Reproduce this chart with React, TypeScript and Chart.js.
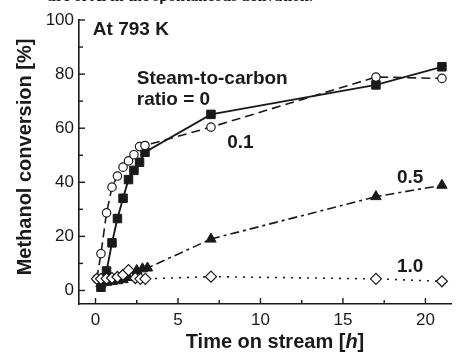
import React, { useEffect, useRef } from 'react';
import { Chart, registerables } from 'chart.js';

Chart.register(...registerables);

const INK = '#1a1a1a';
const FONT = "'Liberation Sans', Arial, Helvetica, sans-serif";

// Steam-to-carbon ratio = 0 (filled squares, solid line)
const xRatio0 = [0.33, 0.67, 1.0, 1.33, 1.67, 2.0, 2.33, 2.67, 3.0, 7, 17, 21];
const yRatio0 = [1.2, 7.2, 17.6, 26.6, 34.1, 41.0, 44.4, 47.4, 51.1, 65.1, 76.0, 82.7];

// ratio = 0.1 (open circles, dashed line)
const xRatio01 = [0.08, 0.33, 0.67, 1.0, 1.33, 1.67, 2.0, 2.33, 2.67, 3.0, 7, 17, 21];
const yRatio01 = [4.3, 13.6, 28.7, 38.2, 42.3, 45.6, 47.9, 50.2, 53.2, 53.6, 60.4, 78.9, 78.4];

// ratio = 0.5 (filled triangles, dash-dot line)
const xRatio05 = [0.33, 0.67, 1.0, 1.33, 1.67, 2.0, 2.5, 2.85, 3.15, 7, 17, 21];
const yRatio05 = [2.5, 3.0, 3.3, 3.6, 4.0, 4.8, 7.4, 8.0, 8.3, 19.0, 34.7, 38.9];

// ratio = 1.0 (open diamonds, dotted line)
const xRatio10 = [0.08, 0.33, 0.67, 1.0, 1.33, 1.67, 2.0, 2.42, 2.72, 3.02, 7, 17, 21];
const yRatio10 = [4.3, 4.3, 4.4, 4.6, 5.0, 5.8, 7.5, 4.6, 4.3, 4.3, 5.1, 4.3, 3.4];

// Axis ticks
const xTickLabels = [0, 5, 10, 15, 20];
const yTickLabels = [0, 20, 40, 60, 80, 100];

const toPoints = (xs: number[], ys: number[]) => xs.map((x, i) => ({ x, y: ys[i] }));

const isMultiple = (v: number, s: number) => Math.abs(v / s - Math.round(v / s)) < 1e-6;

const innerTicks = {
  id: 'innerTicks',
  afterDraw(chart: any) {
    const { ctx, chartArea, scales } = chart;
    ctx.save();
    ctx.strokeStyle = INK;
    ctx.lineWidth = 1.4;
    const xs = scales.x;
    xs.ticks.forEach((t: any) => {
      const v = t.value;
      if (v < 0 || v > 21 || !isMultiple(v, 2.5)) return;
      const major = isMultiple(v, 5);
      const px = xs.getPixelForValue(v);
      ctx.beginPath();
      ctx.moveTo(px, chartArea.bottom);
      ctx.lineTo(px, chartArea.bottom - (major ? 6 : 4));
      ctx.stroke();
    });
    const ys = scales.y;
    ys.ticks.forEach((t: any) => {
      const v = t.value;
      if (v < 0 || !isMultiple(v, 10)) return;
      const major = isMultiple(v, 20);
      const py = ys.getPixelForValue(v);
      ctx.beginPath();
      ctx.moveTo(chartArea.left, py);
      ctx.lineTo(chartArea.left + (major ? 6 : 4), py);
      ctx.stroke();
    });
    ctx.restore();
  },
};

const notes = [
  { text: 'At 793 K', x: -0.16, y: 94.3 },
  { text: 'Steam-to-carbon', x: 2.5, y: 76.5 },
  { text: 'ratio = 0', x: 2.5, y: 68.4 },
  { text: '0.1', x: 7.98, y: 52.5 },
  { text: '0.5', x: 18.27, y: 39.9 },
  { text: '1.0', x: 18.27, y: 7.0 },
];

const textPlugin = {
  id: 'texts',
  afterDraw(chart: any) {
    const { ctx, chartArea, scales } = chart;
    ctx.save();
    ctx.fillStyle = INK;
    ctx.textBaseline = 'alphabetic';
    ctx.textAlign = 'left';
    ctx.font = `bold 19px ${FONT}`;
    notes.forEach((n) => {
      ctx.fillText(n.text, scales.x.getPixelForValue(n.x), scales.y.getPixelForValue(n.y));
    });

    // x-axis title with italic h
    const parts = [
      { t: 'Time on stream [', f: `bold 20px ${FONT}` },
      { t: 'h', f: `italic bold 20px ${FONT}` },
      { t: ']', f: `bold 20px ${FONT}` },
    ];
    let total = 0;
    parts.forEach((p) => {
      ctx.font = p.f;
      total += ctx.measureText(p.t).width;
    });
    let cx = (chartArea.left + chartArea.right) / 2 + 10 - total / 2;
    const by = chartArea.bottom + 44;
    parts.forEach((p) => {
      ctx.font = p.f;
      ctx.fillText(p.t, cx, by);
      cx += ctx.measureText(p.t).width;
    });

    // y-axis title
    ctx.save();
    ctx.translate(25, (chartArea.top + chartArea.bottom) / 2 - 5);
    ctx.rotate(-Math.PI / 2);
    ctx.font = `bold 20px ${FONT}`;
    ctx.textAlign = 'center';
    ctx.textBaseline = 'middle';
    ctx.fillText('Methanol conversion [%]', 0, 0);
    ctx.restore();

    ctx.restore();
  },
};

export default function App() {
  const ref = useRef<HTMLCanvasElement>(null);

  useEffect(() => {
    const canvas = ref.current;
    if (!canvas) return;
    const chart = new Chart(canvas, {
      type: 'line',
      data: {
        datasets: [
          {
            label: '1.0',
            data: toPoints(xRatio10, yRatio10),
            borderColor: INK,
            borderWidth: 1.6,
            borderDash: [2, 6],
            pointStyle: 'rectRot',
            pointRadius: 5.5,
            pointBackgroundColor: '#ffffff',
            pointBorderColor: INK,
            pointBorderWidth: 1.2,
            tension: 0,
            clip: false,
          },
          {
            label: '0.5',
            data: toPoints(xRatio05, yRatio05),
            borderColor: INK,
            borderWidth: 1.6,
            borderDash: [9, 4, 3, 4],
            pointStyle: 'triangle',
            pointRadius: 6,
            pointBackgroundColor: INK,
            pointBorderColor: INK,
            pointBorderWidth: 1,
            tension: 0,
            clip: false,
          },
          {
            label: '0.1',
            data: toPoints(xRatio01, yRatio01),
            borderColor: INK,
            borderWidth: 1.6,
            borderDash: [9, 5],
            pointStyle: 'circle',
            pointRadius: 4.2,
            pointBackgroundColor: '#ffffff',
            pointBorderColor: INK,
            pointBorderWidth: 1.2,
            tension: 0,
            clip: false,
          },
          {
            label: '0',
            data: toPoints(xRatio0, yRatio0),
            borderColor: INK,
            borderWidth: 1.9,
            pointStyle: 'rect',
            pointRadius: 6,
            pointBackgroundColor: INK,
            pointBorderColor: INK,
            pointBorderWidth: 1,
            tension: 0,
            clip: false,
          },
        ],
      },
      options: {
        responsive: false,
        maintainAspectRatio: false,
        animation: false,
        layout: { padding: { top: 20, left: 0, right: 0, bottom: 0 } },
        plugins: {
          legend: { display: false },
          tooltip: { enabled: false },
          title: { display: false },
        },
        scales: {
          x: {
            type: 'linear',
            min: -1,
            max: 21.55,
            afterFit: (s: any) => {
              s.height = 48;
            },
            grid: { drawOnChartArea: false, drawTicks: false },
            border: { color: INK, width: 1.6 },
            ticks: {
              stepSize: 2.5,
              includeBounds: false,
              autoSkip: false,
              maxRotation: 0,
              padding: 6,
              color: INK,
              font: { family: FONT, size: 17 },
              callback: (v: any) => (xTickLabels.includes(Number(v)) ? String(v) : ''),
            },
          },
          y: {
            type: 'linear',
            min: -5,
            max: 100,
            afterFit: (s: any) => {
              s.width = 79;
            },
            grid: { drawOnChartArea: false, drawTicks: false },
            border: { color: INK, width: 1.6 },
            ticks: {
              stepSize: 10,
              includeBounds: false,
              autoSkip: false,
              padding: 5,
              color: INK,
              font: { family: FONT, size: 17 },
              callback: (v: any) => (yTickLabels.includes(Number(v)) ? String(v) : ''),
            },
          },
        },
      },
      plugins: [innerTicks, textPlugin],
    });
    return () => chart.destroy();
  }, []);

  return (
    <div style={{ position: 'fixed', left: 0, top: 0, width: 458, height: 352, background: '#ffffff', overflow: 'hidden' }}>
      <canvas ref={ref} width={458} height={352} style={{ display: 'block', width: 458, height: 352 }} />
      <div
        style={{
          position: 'absolute',
          left: 0,
          top: -12,
          width: 313,
          textAlign: 'right',
          whiteSpace: 'nowrap',
          overflow: 'hidden',
          font: "bold 16px/16px 'Liberation Serif', 'Times New Roman', serif",
          color: INK,
        }}
      >
        ure of Al in the spontaneous activation.
      </div>
    </div>
  );
}
